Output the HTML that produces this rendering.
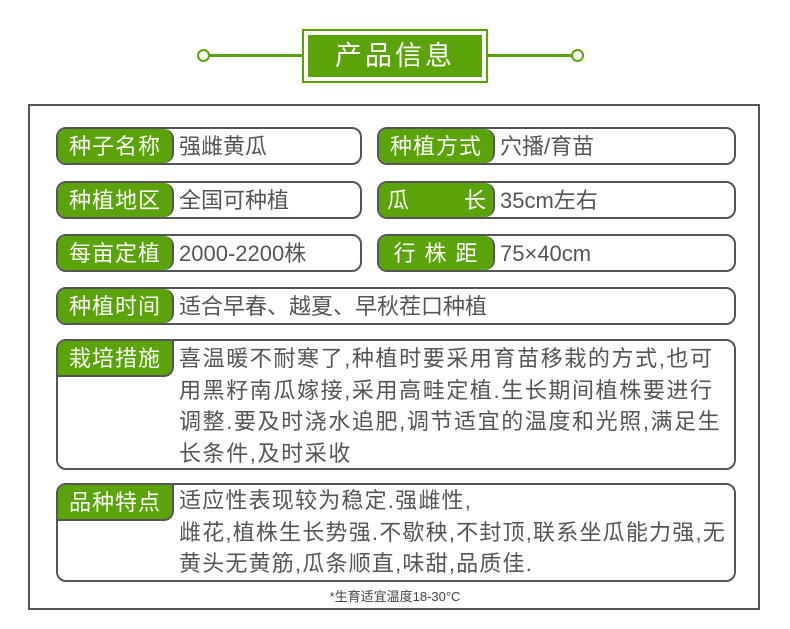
<!DOCTYPE html>
<html><head><meta charset="utf-8"><style>
body{margin:0;width:790px;height:629px;background:#fff;position:relative;font-family:"Liberation Sans","Noto Sans CJK SC",sans-serif;overflow:hidden}
.a{position:absolute;box-sizing:border-box}
.box{position:absolute;box-sizing:border-box;border:2px solid #555;border-radius:10px;overflow:hidden}
.lab{position:absolute;left:0;top:0;width:116px;height:100%;background:#5aa40a;color:#fff;font-size:22px;text-align:center;line-height:35px;border-right:2px solid #555;border-radius:0 10px 10px 0;box-sizing:border-box;letter-spacing:1px}
.lab.t{height:36px;border-bottom:2px solid #555;border-radius:0 0 10px 0}
.val{position:absolute;left:121px;top:0;font-size:22px;color:#555;line-height:36px;white-space:nowrap}
.ml{white-space:nowrap;line-height:31.5px;top:0;letter-spacing:1.6px}
</style></head><body>
<div class="a" style="left:204px;top:54px;width:373px;height:3px;background:#5aa40a"></div>
<div class="a" style="left:197px;top:49px;width:13px;height:13px;border:2.5px solid #5aa40a;border-radius:50%;background:#fff"></div>
<div class="a" style="left:571px;top:49px;width:13px;height:13px;border:2.5px solid #5aa40a;border-radius:50%;background:#fff"></div>
<div class="a" style="left:302px;top:29px;width:186px;height:54px;border:2px solid #5aa40a;background:#fff"></div>
<div class="a" style="left:308px;top:35px;width:174px;height:42px;background:#5aa40a;color:#fff;font-size:27px;text-align:center;line-height:42px;letter-spacing:3px">产品信息</div>
<div class="a" style="left:28px;top:104px;width:732px;height:506px;border:2px solid #555"></div>

<div class="box" style="left:56px;top:127px;width:306px;height:38px"><div class="lab">种子名称</div><div class="val">强雌黄瓜</div></div>
<div class="box" style="left:377px;top:127px;width:359px;height:38px"><div class="lab">种植方式</div><div class="val">穴播/育苗</div></div>
<div class="box" style="left:56px;top:181px;width:306px;height:38px"><div class="lab">种植地区</div><div class="val">全国可种植</div></div>
<div class="box" style="left:377px;top:181px;width:359px;height:38px"><div class="lab" style="text-align:left;padding-left:8px">瓜<span style="display:inline-block;width:54px"></span>长</div><div class="val">35cm左右</div></div>
<div class="box" style="left:56px;top:234px;width:306px;height:38px"><div class="lab">每亩定植</div><div class="val">2000-2200株</div></div>
<div class="box" style="left:377px;top:234px;width:359px;height:38px"><div class="lab" style="letter-spacing:9px;padding-left:8px">行株距</div><div class="val">75×40cm</div></div>
<div class="box" style="left:56px;top:287px;width:680px;height:38px"><div class="lab">种植时间</div><div class="val">适合早春、越夏、早秋茬口种植</div></div>
<div class="box" style="left:56px;top:339px;width:680px;height:131px"><div class="lab t">栽培措施</div><div class="val ml" style="top:2px">喜温暖不耐寒了,种植时要采用育苗移栽的方式,也可<br>用黑籽南瓜嫁接,采用高畦定植.生长期间植株要进行<br>调整.要及时浇水追肥,调节适宜的温度和光照,满足生<br>长条件,及时采收</div></div>
<div class="box" style="left:56px;top:483px;width:680px;height:99px"><div class="lab t">品种特点</div><div class="val ml" style="top:0;letter-spacing:1.2px">适应性表现较为稳定.强雌性,<br>雌花,植株生长势强.不歇秧,不封顶,联系坐瓜能力强,无<br>黄头无黄筋,瓜条顺直,味甜,品质佳.</div></div>
<div class="a" style="left:0;width:790px;top:586px;text-align:center;font-size:13px;color:#444">*生育适宜温度18-30°C</div>
</body></html>
